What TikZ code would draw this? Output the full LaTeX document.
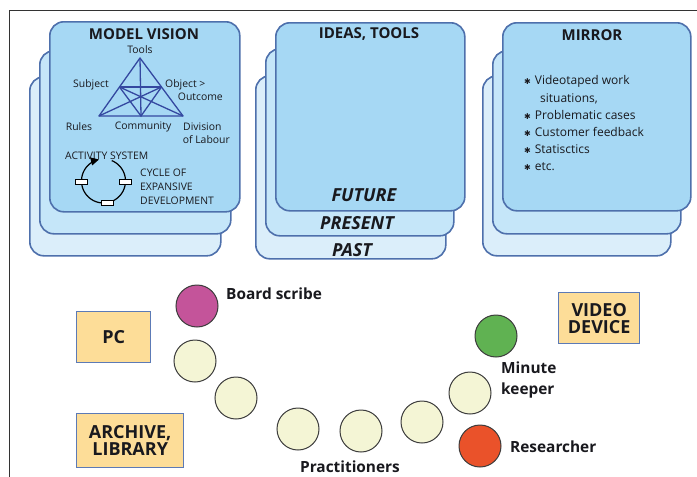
\documentclass[tikz,border=0pt]{standalone}
\usepackage{fontspec}
\setmainfont{Open Sans}
\newfontfamily\symfont{DejaVu Sans}
\usetikzlibrary{arrows.meta}
\definecolor{cardline}{RGB}{78,112,172}
\definecolor{cardfront}{RGB}{166,216,244}
\definecolor{cardmid}{RGB}{197,230,249}
\definecolor{cardback}{RGB}{219,238,250}
\definecolor{tricol}{RGB}{52,72,160}
\definecolor{boxfill}{RGB}{253,221,152}
\definecolor{boxline}{RGB}{92,122,182}
\definecolor{seatfill}{RGB}{244,245,213}
\definecolor{seatline}{RGB}{60,60,60}
\definecolor{scribecol}{RGB}{196,84,154}
\definecolor{minutecol}{RGB}{96,178,82}
\definecolor{researchcol}{RGB}{234,82,42}
\definecolor{txt}{RGB}{25,25,30}
\newcommand\blt{{\symfont\fontsize{8}{8}\selectfont ✱}\hspace{4pt}}
\tikzset{
  card/.style={draw=cardline, line width=1.6pt, rounded corners=14pt, anchor=north west, inner sep=0pt},
  title/.style={text=txt, font=\fontsize{15}{17}\selectfont\bfseries},
  era/.style={text=txt, font=\fontsize{18}{20}\selectfont\bfseries\itshape},
  small/.style={text=txt, font=\fontsize{10.4}{12}\selectfont, inner sep=0pt},
  caps/.style={text=txt, font=\fontsize{10.4}{12}\selectfont, inner sep=0pt},
  bullet/.style={text=txt, font=\fontsize{12}{14}\selectfont, inner sep=0pt, anchor=west},
  tool/.style={draw=boxline, line width=1.4pt, fill=boxfill, anchor=north west, inner sep=0pt},
  tooltext/.style={text=txt, font=\fontsize{18}{20}\selectfont\bfseries, align=center},
  seat/.style={circle, draw=seatline, line width=1pt, minimum size=42pt, inner sep=0pt},
  role/.style={text=txt, font=\fontsize{15.4}{17}\selectfont\bfseries, inner sep=0pt},
  stop/.style={draw=black, line width=0.8pt, fill=white, minimum width=12pt, minimum height=5pt, inner sep=0pt},
  triline/.style={draw=tricol, line width=1.3pt}
}
\begin{document}
\begin{tikzpicture}[x=1pt,y=-1pt]
\useasboundingbox (0,0) rectangle (697,477);
\fill[white] (0,0) rectangle (697,477);
\draw[black!80, line width=1.1pt] (9.5,477) -- (9.5,10.5) -- (697,10.5);

% left stack
\node[card, fill=cardback, minimum width=191pt, minimum height=179pt] (lback) at (29,76) {};
\node[card, fill=cardmid, minimum width=191pt, minimum height=183pt] (lmid) at (39,50) {};
\node[card, fill=cardfront, minimum width=190pt, minimum height=190pt] (lfront) at (49,21) {};
% middle stack
\node[card, fill=cardback, minimum width=190pt, minimum height=183pt] (mback) at (255,75) {};
\node[card, fill=cardmid, minimum width=188pt, minimum height=187pt] (mmid) at (265,48) {};
\node[card, fill=cardfront, minimum width=189pt, minimum height=188pt] (mfront) at (275,22) {};
% right stack
\node[card, fill=cardback, minimum width=188pt, minimum height=180pt] (rback) at (482,75) {};
\node[card, fill=cardmid, minimum width=188pt, minimum height=183pt] (rmid) at (492,50) {};
\node[card, fill=cardfront, minimum width=188pt, minimum height=188pt] (rfront) at (502,22) {};

% titles
\node[title] (mv) at (144,34) {MODEL VISION};
\node[title] (it) at (369,34) {IDEAS, TOOLS};
\node[title] (mi) at (592,35) {MIRROR};

% activity triangle
\coordinate (tA) at (140,58);
\coordinate (tL) at (99,116);
\coordinate (tR) at (183,116);
\coordinate (tS) at (119.5,87);
\coordinate (tO) at (161.5,87);
\coordinate (tC) at (141,116);
\draw[triline, line join=round] (tA) -- (tL) -- (tR) -- cycle;
\draw[triline] (tS) -- (tO);
\draw[triline] (tA) -- (tC);
\draw[triline] (tS) -- (tC) -- (tO);
\draw[triline] (tL) -- (tO);
\draw[triline] (tR) -- (tS);

\node[small] (lt) at (140,50) {Tools};
\node[small] (ls) at (91,85) {Subject};
\node[small, anchor=west] (lo) at (165,85) {Object >};
\node[small, anchor=east] (lo2) at (223,97) {Outcome};
\node[small] (lr) at (79,127) {Rules};
\node[small] (lc) at (143,127) {Community};
\node[small, anchor=west] (ld) at (183,127) {Division};
\node[small, anchor=east] (ld2) at (230,140) {of Labour};
\node[caps, anchor=west] (as) at (65,156) {ACTIVITY SYSTEM};

% cycle of expansive development
\draw[black, line width=1.2pt, -{Triangle[length=8pt,width=8pt]}]
  plot[domain=-68:258, samples=80] ({103.5+22*cos(\x)},{181+22*sin(\x)});
\node[stop] (s1) at (81.5,182) {};
\node[stop] (s2) at (125.5,182) {};
\node[stop] (s3) at (107,203) {};
\node[caps, anchor=west] (c1) at (140,173) {CYCLE OF};
\node[caps, anchor=west] (c2) at (140,187) {EXPANSIVE};
\node[caps, anchor=west] (c3) at (140,201) {DEVELOPMENT};

% eras
\node[era] (fu) at (364,195) {FUTURE};
\node[era] (pr) at (357,223) {PRESENT};
\node[era] (pa) at (352,250) {PAST};

% mirror bullets
\node[bullet] (b1) at (524,81) {\blt Videotaped work};
\node[bullet] (b1b) at (540,99) {situations,};
\node[bullet] (b2) at (524,115) {\blt Problematic cases};
\node[bullet] (b3) at (524,132) {\blt Customer feedback};
\node[bullet] (b4) at (524,149) {\blt Statisctics};
\node[bullet] (b5) at (524,167) {\blt etc.};

% tools in the room
\node[tool, minimum width=74pt, minimum height=51pt] (pc) at (76,311) {};
\node[tooltext] at (pc.center) {PC};
\node[tool, minimum width=107pt, minimum height=54pt] (ar) at (76,413) {};
\node[tooltext] at (ar.center) {ARCHIVE,\\[-3pt]LIBRARY};
\node[tool, minimum width=81pt, minimum height=51pt] (vd) at (558,292) {};
\node[tooltext] at (vd.center) {VIDEO\\[-3pt]DEVICE};

% seats
\node[seat, fill=scribecol] (bs) at (197,306) {};
\node[seat, fill=seatfill] (p1) at (195,361) {};
\node[seat, fill=seatfill] (p2) at (236,398) {};
\node[seat, fill=seatfill] (p3) at (298,429) {};
\node[seat, fill=seatfill] (p4) at (361,431) {};
\node[seat, fill=seatfill] (p5) at (422,422) {};
\node[seat, fill=seatfill] (p6) at (470,393) {};
\node[seat, fill=minutecol] (mk) at (496,336) {};
\node[seat, fill=researchcol] (rs) at (480,446) {};

\node[role, anchor=west] (lbs) at (226,294) {Board scribe};
\node[role, anchor=west] (lmk1) at (501,368) {Minute};
\node[role, anchor=west] (lmk2) at (501,390) {keeper};
\node[role, anchor=west] (lrs) at (510,447) {Researcher};
\node[role] (lpr) at (350,467) {Practitioners};
\end{tikzpicture}
\end{document}
